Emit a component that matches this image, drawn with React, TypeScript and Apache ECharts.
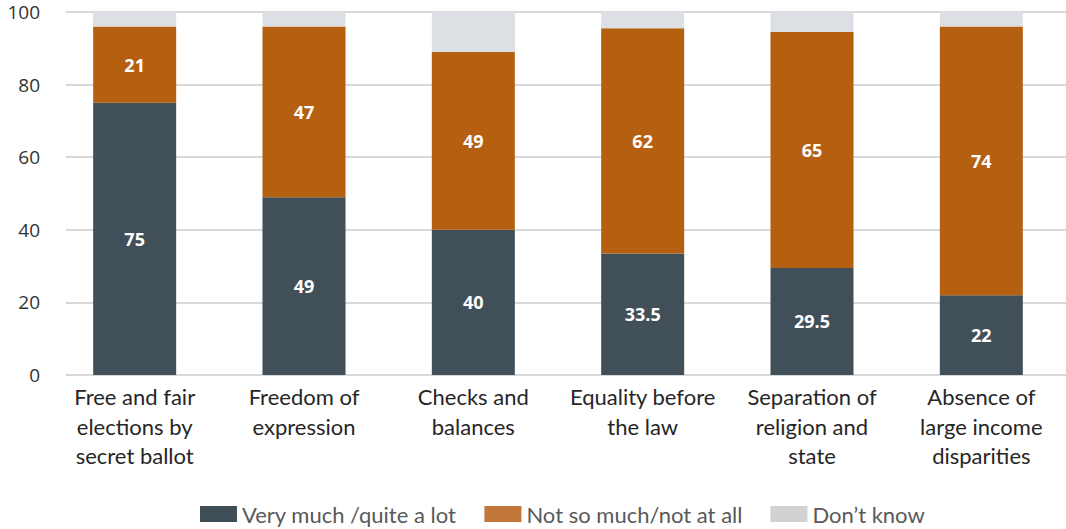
import React, { useEffect, useRef } from "react";
import * as echarts from "echarts";

// Support for democratic principles, share of respondents (%)
const categories = [
  "Free and fair\nelections by\nsecret ballot",
  "Freedom of\nexpression",
  "Checks and\nbalances",
  "Equality before\nthe law",
  "Separation of\nreligion and\nstate",
  "Absence of\nlarge income\ndisparities",
];
const veryMuch = [75, 49, 40, 33.5, 29.5, 22];
const notSoMuch = [21, 47, 49, 62, 65, 74];
const dontKnow = [4, 4, 11, 4.5, 5.5, 4];
const yTicks = [0, 20, 40, 60, 80, 100];

const seriesNames = ["Very much /quite a lot", "Not so much/not at all", "Don\u2019t know"];
const barColors = ["#414f58", "#b55f11", "#dcdfe3"];
const legendColors = ["#3f4d56", "#c2783a", "#d0d1d3"];

export default function App() {
  const ref = useRef<HTMLDivElement>(null);

  useEffect(() => {
    if (!ref.current) return;
    const chart = echarts.init(ref.current, null, { renderer: "svg" });

    const labelStyle = {
      show: true,
      position: "inside" as const,
      color: "#ffffff",
      fontFamily: "Open Sans",
      fontWeight: "bold" as const,
      fontSize: 18,
    };

    chart.setOption({
      animation: false,
      grid: [
        { left: 50, right: 0, top: 12, height: 363 },
        { left: 66, right: 0, top: 12, height: 363 },
      ],
      legend: {
        top: 503,
        left: 200,
        padding: 0,
        itemWidth: 37,
        itemHeight: 16,
        itemGap: 28,
        icon: "rect",
        textStyle: {
          fontFamily: "Lato",
          fontSize: 22,
          lineHeight: 22,
          color: "#595959",
          padding: [0, 0, 0, 0],
        },
        data: seriesNames.map((n, i) => ({ name: n, itemStyle: { color: legendColors[i] } })),
      },
      xAxis: [
        {
          type: "category",
          gridIndex: 0,
          data: categories,
          axisLine: { show: false },
          axisTick: { show: false },
          axisLabel: {
            interval: 0,
            margin: 7,
            fontFamily: "Lato",
            fontSize: 22,
            lineHeight: 29.5,
            color: "#262626",
          },
        },
        {
          type: "category",
          gridIndex: 1,
          data: categories,
          show: false,
        },
      ],
      yAxis: [
        {
          type: "value",
          gridIndex: 0,
          min: 0,
          max: 100,
          interval: 20,
          show: false,
          splitLine: { show: false },
        },
        {
          type: "value",
          gridIndex: 1,
          min: yTicks[0],
          max: yTicks[yTicks.length - 1],
          interval: 20,
          axisLine: { show: false },
          axisTick: { show: false },
          axisLabel: {
            margin: 26,
            fontFamily: "Open Sans",
            fontSize: 19,
            color: "#333333",
          },
          splitLine: { lineStyle: { color: "#cccccc", width: 1.5 } },
        },
      ],
      series: [
        {
          name: seriesNames[0],
          type: "bar",
          stack: "total",
          barWidth: 83,
          data: veryMuch,
          itemStyle: { color: barColors[0] },
          label: labelStyle,
        },
        {
          name: seriesNames[1],
          type: "bar",
          stack: "total",
          barWidth: 83,
          data: notSoMuch,
          itemStyle: { color: barColors[1] },
          label: labelStyle,
        },
        {
          name: seriesNames[2],
          type: "bar",
          stack: "total",
          barWidth: 83,
          data: dontKnow,
          itemStyle: { color: barColors[2] },
          label: { show: false },
        },
      ],
    });

    return () => chart.dispose();
  }, []);

  return (
    <div
      ref={ref}
      style={{ position: "absolute", left: 0, top: 0, width: 1066, height: 529 }}
    />
  );
}
